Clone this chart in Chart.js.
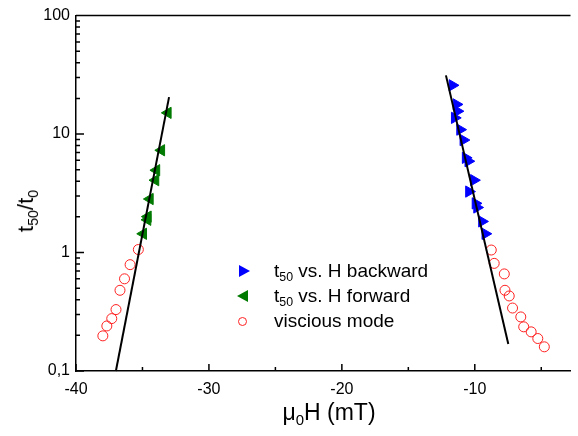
<!DOCTYPE html>
<html>
<head>
<meta charset="utf-8">
<script src="https://cdn.jsdelivr.net/npm/chart.js@4.4.1/dist/chart.umd.min.js"></script>
<style>
  body { margin: 0; background: #fff; }
  #wrap { position: relative; width: 578px; height: 436px; font-family: "Liberation Sans", Arial, sans-serif; color: #000; }
  #chart { position: absolute; left: 0; top: 0; }
  .ytitle { position: absolute; left: 26px; top: 211px; transform: translate(-50%, -50%) rotate(-90deg); font-size: 22px; white-space: nowrap; }
  .xtitle { position: absolute; left: 329px; top: 424px; transform: translate(-50%, -100%); font-size: 23px; white-space: nowrap; line-height: 1; }
  sub { font-size: 65%; vertical-align: -0.35em; line-height: 0; }
  .legend { position: absolute; left: 234px; top: 258px; font-size: 19px; line-height: 25px; }
  .row { position: relative; padding-left: 40px; height: 25px; white-space: nowrap; }
  .mk { position: absolute; top: 50%; }
  .tr { left: 5px; margin-top: -6px; width: 0; height: 0; border-top: 6px solid transparent; border-bottom: 6px solid transparent; border-left: 11px solid #0000ff; }
  .tl { left: 3px; margin-top: -6px; width: 0; height: 0; border-top: 6px solid transparent; border-bottom: 6px solid transparent; border-right: 11px solid #007a00; }
  .ci { left: 4px; margin-top: -4px; width: 7px; height: 7px; border: 1px solid #ff2020; border-radius: 50%; }
</style>
</head>
<body>
<div id="wrap">
  <canvas id="chart" width="578" height="436"></canvas>
  <div class="ytitle">t<sub>50</sub>/t<sub>0</sub></div>
  <div class="xtitle">&mu;<sub>0</sub>H (mT)</div>
  <div class="legend">
    <div class="row"><span class="mk tr"></span>t<sub>50</sub> vs. H backward</div>
    <div class="row"><span class="mk tl"></span>t<sub>50</sub> vs. H forward</div>
    <div class="row"><span class="mk ci"></span>viscious mode</div>
  </div>
</div>
<script>
// tick labels
const xTicks = [-40, -30, -20, -10];
const xMinor = [-35, -25, -15, -5];
const yTicks = [0.1, 1, 10, 100];
const yTickLabels = ['0,1', '1', '10', '100'];

// t50 vs H backward (right branch)
const backH = [-11.68, -11.38, -11.31, -11.51, -11.11, -10.86, -10.69, -10.49, -10.07, -10.44, -9.95, -9.83, -9.46, -9.21];
const backT = [25.8, 17.8, 15.6, 13.7, 10.9, 8.9, 6.3, 5.9, 4.08, 3.27, 2.6, 2.4, 1.83, 1.44];

// t50 vs H forward (left branch)
const fwdH = [-33.09, -33.58, -33.95, -34.02, -34.44, -34.59, -34.62, -34.94];
const fwdT = [15.1, 7.3, 4.95, 4.08, 2.83, 2.01, 1.89, 1.44];

// viscous mode, both branches
const viscH = [-35.31, -35.93, -36.35, -36.69, -36.99, -37.31, -37.68, -37.98,
               -8.76, -8.54, -7.78, -7.73, -7.41, -7.16, -6.54, -6.32, -5.76, -5.26, -4.77];
const viscT = [1.06, 0.79, 0.60, 0.48, 0.33, 0.277, 0.24, 0.198,
               1.05, 0.81, 0.66, 0.48, 0.43, 0.34, 0.286, 0.236, 0.214, 0.188, 0.16];

// fit lines (end points)
const fitLeftH = [-37.0, -33.0];
const fitLeftT = [0.1, 20.5];
const fitRightH = [-12.17, -7.48];
const fitRightT = [31.3, 0.169];

const pts = (xs, ys) => xs.map((x, i) => ({ x: x, y: ys[i] }));

// inward ticks + top frame line
const frame = {
  id: 'frame',
  afterDraw(chart) {
    const ctx = chart.ctx, a = chart.chartArea;
    const xs = chart.scales.x, ys = chart.scales.y;
    ctx.save();
    ctx.strokeStyle = '#000';
    ctx.lineWidth = 1.5;
    ctx.beginPath();
    ctx.moveTo(a.left, a.top);
    ctx.lineTo(a.right, a.top);
    xTicks.forEach(v => { const p = xs.getPixelForValue(v); ctx.moveTo(p, a.bottom); ctx.lineTo(p, a.bottom - 7); });
    xMinor.forEach(v => { const p = xs.getPixelForValue(v); ctx.moveTo(p, a.bottom); ctx.lineTo(p, a.bottom - 4); });
    yTicks.forEach(v => { const p = ys.getPixelForValue(v); ctx.moveTo(a.left, p); ctx.lineTo(a.left + 8, p); });
    for (let d = 0.1; d < 100; d *= 10) {
      for (let k = 2; k <= 9; k++) {
        const p = ys.getPixelForValue(d * k);
        ctx.moveTo(a.left, p); ctx.lineTo(a.left + 4, p);
      }
    }
    ctx.stroke();
    ctx.restore();
  }
};

new Chart(document.getElementById('chart'), {
  type: 'scatter',
  data: {
    datasets: [
      { data: pts(fitLeftH, fitLeftT), showLine: true, borderColor: '#000', borderWidth: 2, pointRadius: 0 },
      { data: pts(fitRightH, fitRightT), showLine: true, borderColor: '#000', borderWidth: 2, pointRadius: 0 },
      { data: pts(backH, backT), pointStyle: 'triangle', rotation: 90, pointRadius: 6.5,
        backgroundColor: '#0000ff', borderColor: '#0000ff', borderWidth: 1 },
      { data: pts(fwdH, fwdT), pointStyle: 'triangle', rotation: -90, pointRadius: 6.5,
        backgroundColor: '#007a00', borderColor: '#007a00', borderWidth: 1 },
      { data: pts(viscH, viscT), pointStyle: 'circle', pointRadius: 5,
        backgroundColor: 'rgba(0,0,0,0)', borderColor: '#ff2020', borderWidth: 1 }
    ]
  },
  options: {
    responsive: false,
    animation: false,
    clip: false,
    layout: { padding: { top: 13, right: 0, left: 0, bottom: 0 } },
    plugins: { legend: { display: false }, tooltip: { enabled: false } },
    scales: {
      x: {
        type: 'linear', min: -40, max: -2.8,
        afterBuildTicks: s => { s.ticks = xTicks.map(v => ({ value: v })); },
        afterFit: s => { s.height = 65; },
        grid: { display: false, drawTicks: false },
        border: { color: '#000', width: 1.5 },
        ticks: { color: '#000', padding: 9, maxRotation: 0, font: { family: 'Liberation Sans', size: 16 } }
      },
      y: {
        type: 'logarithmic', min: 0.1, max: 100,
        afterBuildTicks: s => { s.ticks = yTicks.map(v => ({ value: v })); },
        afterFit: s => { s.width = 76; },
        grid: { display: false, drawTicks: false },
        border: { color: '#000', width: 1.5 },
        ticks: {
          color: '#000', padding: 6, font: { family: 'Liberation Sans', size: 16 },
          callback: v => { const i = yTicks.indexOf(v); return i >= 0 ? yTickLabels[i] : ''; }
        }
      }
    }
  },
  plugins: [frame]
});
</script>
</body>
</html>
